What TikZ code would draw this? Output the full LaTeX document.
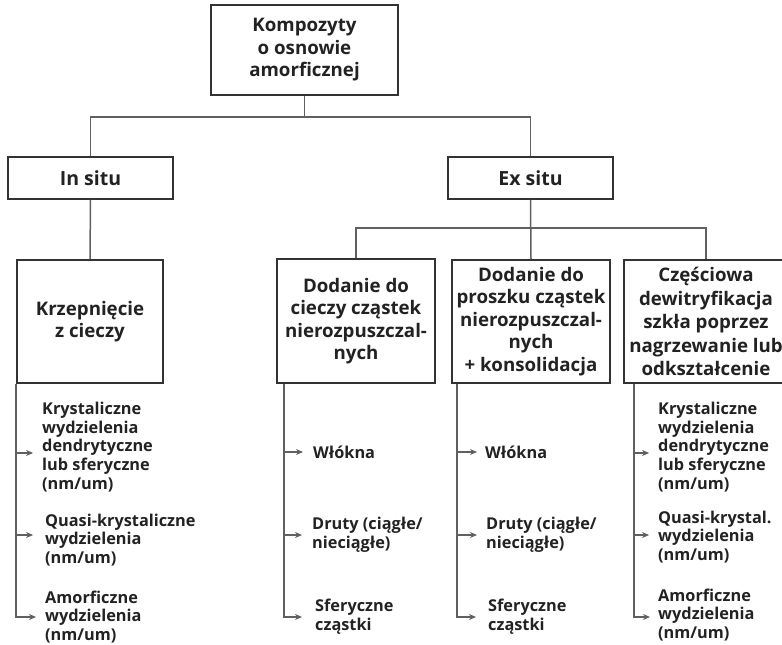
\documentclass[tikz,border=0pt]{standalone}
\usepackage{fontspec}
\setmainfont{Open Sans}
\usetikzlibrary{arrows.meta}
\definecolor{boxc}{HTML}{333333}
\definecolor{linec}{HTML}{606060}
\definecolor{txtc}{HTML}{222222}
\begin{document}
\begin{tikzpicture}[x=1pt,y=-1pt,
  box/.style={draw=boxc,line width=1.8pt,fill=white,align=center,inner sep=0pt,text=txtc,font=\bfseries\fontsize{18.7}{22.5}\selectfont},
  item/.style={anchor=west,align=left,inner sep=0pt,text=txtc,font=\bfseries\fontsize{16.3}{18.8}\selectfont},
  conn/.style={draw=linec,line width=1.5pt},
  arr/.style={conn,-{Stealth[length=7pt,width=6pt]}}]
\useasboundingbox (0,0) rectangle (782,645);
% boxes
\node[box,minimum width=187pt,minimum height=90pt] (top) at (304.5,50) {Kompozyty\\o osnowie\\amorficznej};
\node[box,minimum width=165pt,minimum height=42pt,font=\bfseries\fontsize{19.5}{22}\selectfont] (insitu) at (90.5,178) {In situ};
\node[box,minimum width=165pt,minimum height=42pt,font=\bfseries\fontsize{19.5}{22}\selectfont] (exsitu) at (530.5,178) {Ex situ};
\node[box,minimum width=146pt,minimum height=123pt] (krz) at (90,321.5) {Krzepnięcie\\z cieczy};
\node[box,minimum width=158pt,minimum height=124pt] (ciecz) at (356,321) {\rule{0pt}{10pt}Dodanie do\\cieczy cząstek\\nierozpuszczal-\\nych};
\node[box,minimum width=158pt,minimum height=123pt] (proszek) at (531,321.5) {Dodanie do\\proszku cząstek\\nierozpuszczal-\\nych\\ + konsolidacja};
\node[box,minimum width=164pt,minimum height=123pt,font=\bfseries\fontsize{18.7}{23.5}\selectfont] (czes) at (706,321.5) {\rule{0pt}{8pt}Częściowa\\dewitryfikacja\\szkła poprzez\\nagrzewanie lub\\odkształcenie};
% tree connectors
\coordinate (j1) at (304.5,117);
\coordinate (j2) at (530.5,228);
\draw[conn] (top.south) -- (j1);
\draw[conn] (insitu.north) |- (j1) -| (exsitu.north);
\draw[conn] (insitu.south) -- (krz.north);
\draw[conn] (exsitu.south) -- (proszek.north);
\draw[conn] (ciecz.north) |- (j2) -| (czes.north);
% items: In situ
\node[item] (k1) at (42,447) {Krystaliczne\\wydzielenia\\dendrytyczne\\lub sferyczne\\(nm/um)};
\node[item] (k2) at (45,540) {Quasi-krystaliczne\\wydzielenia\\(nm/um)};
\node[item] (k3) at (45,617) {Amorficzne\\wydzielenia\\(nm/um)};
\coordinate (kl) at (krz.south west);
\draw[arr] (kl |- k1.west) ++(0,6) -- ++(17,0);
\draw[arr] (kl |- k2.west) ++(0,-5) -- ++(17,0);
\draw[arr] (kl) |- ([xshift=-9pt]k3.west);
% items: ciecz
\node[item] (c1) at (313,452) {Włókna};
\node[item] (c2) at (312,535) {Druty (ciągłe/\\nieciągłe)};
\node[item] (c3) at (315,617) {Sferyczne\\cząstki};
\coordinate (cl) at ([xshift=8pt]ciecz.south west);
\draw[arr] (cl |- c1.west) -- ([xshift=-10pt]c1.west);
\draw[arr] (cl |- c2.west) -- ([xshift=-10pt]c2.west);
\draw[arr] (cl) |- ([xshift=-13pt]c3.west);
% items: proszek
\node[item] (p1) at (485,452) {Włókna};
\node[item] (p2) at (486,535) {Druty (ciągłe/\\nieciągłe)};
\node[item] (p3) at (488,617) {Sferyczne\\cząstki};
\coordinate (pl) at ([xshift=6pt]proszek.south west);
\draw[arr] (pl |- p1.west) -- ([xshift=-8pt]p1.west);
\draw[arr] (pl |- p2.west) -- ([xshift=-9pt]p2.west);
\draw[arr] (pl) |- ([xshift=-12pt]p3.west);
% items: czes
\node[item] (z1) at (658,447) {Krystaliczne\\wydzielenia\\dendrytyczne\\lub sferyczne\\(nm/um)};
\node[item] (z2) at (658,537) {Quasi-krystal.\\wydzielenia\\(nm/um)};
\node[item] (z3) at (658,615) {Amorficzne\\wydzielenia\\(nm/um)};
\coordinate (zl) at ([xshift=11pt]czes.south west);
\draw[arr] (zl |- z1.west) ++(0,6) -- ++(15,0);
\draw[arr] (zl |- z2.west) ++(0,-2) -- ++(15,0);
\draw[arr] (zl) |- ([xshift=-8pt,yshift=-2pt]z3.west);
\end{tikzpicture}
\end{document}
